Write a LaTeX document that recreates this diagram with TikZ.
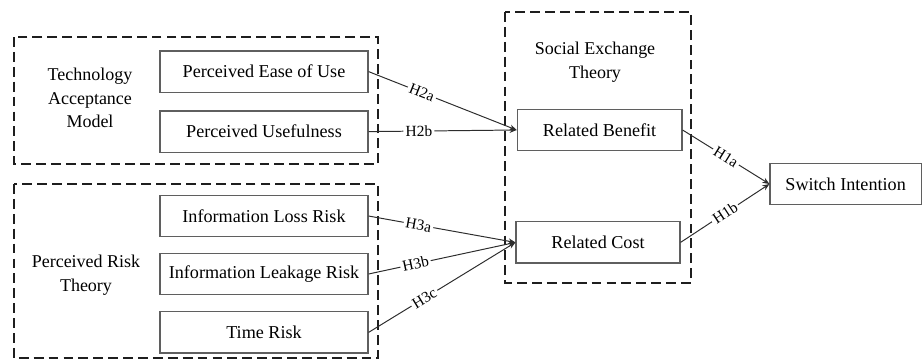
\documentclass[tikz,border=0pt]{standalone}
\usepackage{fontspec}
\setmainfont{Liberation Serif}
\usepackage{xcolor}
\definecolor{boxgray}{RGB}{95,95,95}
\definecolor{linegray}{RGB}{45,45,45}
\definecolor{dashgray}{RGB}{30,30,30}
\usetikzlibrary{arrows.meta}

\tikzset{
  construct/.style={draw=boxgray, line width=0.8pt, fill=white, minimum height=1.03cm, inner sep=0pt, font=\fontsize{12.9}{15}\selectfont},
  theory/.style={font=\fontsize{12.8}{16.8}\selectfont, align=center},
  groupbox/.style={draw=dashgray, line width=1.6pt, dash pattern=on 7pt off 3.6pt},
  hypo/.style={draw=linegray, line width=0.7pt, -{Stealth[length=5pt,width=4pt]}},
  hlabel/.style={font=\fontsize{11}{13}\selectfont, fill=white, inner sep=1.5pt, sloped}
}

\begin{document}
\begin{tikzpicture}
  \useasboundingbox (0,0) rectangle (23.1,-9.0);

  % Theory borders
  \draw[groupbox] (0.35,-0.925) rectangle (9.45,-4.1);
  \draw[groupbox] (0.35,-4.6) rectangle (9.45,-8.95);
  \draw[groupbox] (12.625,-0.3) rectangle (17.275,-7.075);

  % --- Technology Acceptance Model ---
  \node[theory] (tam) at (2.25,-2.45) {Technology\\Acceptance\\Model};
  \node[construct, minimum width=5.2cm] (peou) at (6.6,-1.79) {Perceived Ease of Use};
  \node[construct, minimum width=5.2cm] (pu) at (6.6,-3.29) {Perceived Usefulness};

  % --- Perceived Risk Theory ---
  \node[theory] (prt) at (2.15,-6.875) {Perceived Risk\\Theory};
  \node[construct, minimum width=5.2cm] (ilr) at (6.6,-5.4) {Information Loss Risk};
  \node[construct, minimum width=5.2cm] (ilk) at (6.6,-6.85) {Information Leakage Risk};
  \node[construct, minimum width=5.2cm] (tr) at (6.6,-8.31) {Time Risk};

  % --- Social Exchange Theory ---
  \node[theory] (set) at (14.875,-1.55) {Social Exchange\\Theory};
  \node[construct, minimum width=4.12cm] (rb) at (14.99,-3.25) {Related Benefit};
  \node[construct, minimum width=4.1cm] (rc) at (14.95,-6.06) {Related Cost};

  % Outcome
  \node[construct, minimum width=3.78cm] (si) at (21.14,-4.6) {Switch Intention};

  % Hypotheses
  \draw[hypo] (peou.east) -- node[hlabel, pos=.36] {H2a} (rb.west);
  \draw[hypo] (pu.east) -- node[hlabel, pos=.34] {H2b} (rb.west);
  \draw[hypo] (ilr.east) -- node[hlabel, pos=.34] {H3a} (rc.west);
  \draw[hypo] (ilk.east) -- node[hlabel, pos=.32] {H3b} (rc.west);
  \draw[hypo] (tr.east) -- node[hlabel, pos=.38] {H3c} (rc.west);
  \draw[hypo] (rb.east) -- node[hlabel, pos=.5] {H1a} (si.west);
  \draw[hypo] (rc.east) -- node[hlabel, pos=.5] {H1b} (si.west);
\end{tikzpicture}
\end{document}
